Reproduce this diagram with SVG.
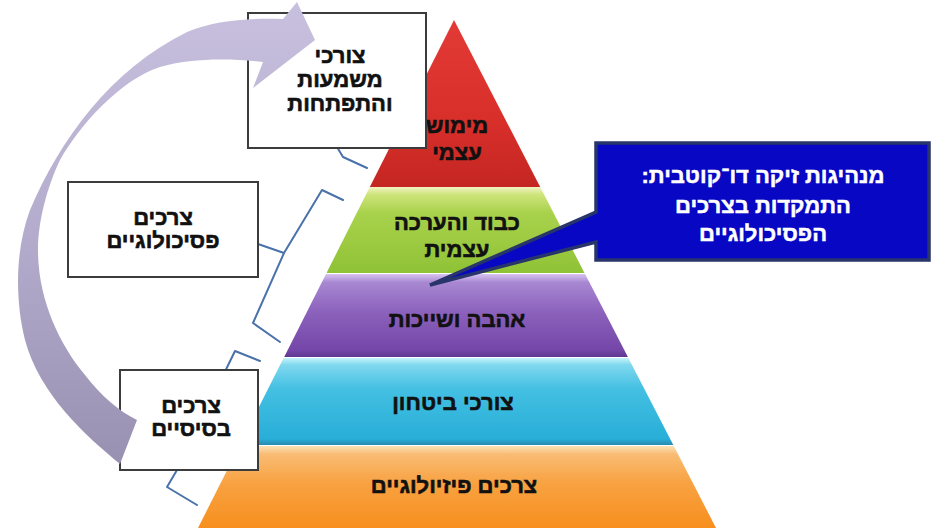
<svg xmlns="http://www.w3.org/2000/svg" width="932" height="528" viewBox="0 0 932 528">
  <defs>
    <linearGradient id="gRed" x1="0" y1="0" x2="0" y2="1">
      <stop offset="0" stop-color="#e23a36"/>
      <stop offset="0.6" stop-color="#d92f2b"/>
      <stop offset="1" stop-color="#c42622"/>
    </linearGradient>
    <linearGradient id="gGreen" x1="0" y1="0" x2="0" y2="1">
      <stop offset="0" stop-color="#f2f2c4"/>
      <stop offset="0.09" stop-color="#cde47a"/>
      <stop offset="0.3" stop-color="#a9d24c"/>
      <stop offset="1" stop-color="#8fc236"/>
    </linearGradient>
    <linearGradient id="gPurple" x1="0" y1="0" x2="0" y2="1">
      <stop offset="0" stop-color="#d8c4f0"/>
      <stop offset="0.1" stop-color="#a888d2"/>
      <stop offset="0.45" stop-color="#8c62bc"/>
      <stop offset="0.92" stop-color="#7446a8"/>
      <stop offset="1" stop-color="#5e3890"/>
    </linearGradient>
    <linearGradient id="gCyan" x1="0" y1="0" x2="0" y2="1">
      <stop offset="0" stop-color="#c4f4fc"/>
      <stop offset="0.08" stop-color="#80d8ee"/>
      <stop offset="0.35" stop-color="#44c0e2"/>
      <stop offset="0.93" stop-color="#28aed8"/>
      <stop offset="1" stop-color="#2a8ab0"/>
    </linearGradient>
    <linearGradient id="gOrange" x1="0" y1="0" x2="0" y2="1">
      <stop offset="0" stop-color="#fbe2b4"/>
      <stop offset="0.1" stop-color="#f9bc74"/>
      <stop offset="0.45" stop-color="#f8a242"/>
      <stop offset="1" stop-color="#f78f1e"/>
    </linearGradient>
    <linearGradient id="gArrow" gradientUnits="userSpaceOnUse" x1="0" y1="0" x2="0" y2="470">
      <stop offset="0" stop-color="#c8c0de"/>
      <stop offset="0.5" stop-color="#b4accc"/>
      <stop offset="1" stop-color="#9890b0"/>
    </linearGradient>
  </defs>
  <style>
    .box { fill: #ffffff; stroke: #3c3c3c; stroke-width: 2; }
    .lbl { font-family: "Liberation Sans", "DejaVu Sans", sans-serif; font-size: 22px; font-weight: bold; fill: #111111; stroke: #111111; stroke-width: 0.6; text-anchor: middle; direction: rtl; unicode-bidi: embed; }
    .wlbl { font-family: "Liberation Sans", "DejaVu Sans", sans-serif; font-size: 22px; font-weight: bold; fill: #ffffff; stroke: #ffffff; stroke-width: 0.5; text-anchor: middle; direction: rtl; unicode-bidi: embed; }
    .brace { fill: none; stroke: #4a72aa; stroke-width: 2; stroke-linejoin: round; stroke-linecap: round; }
  </style>
  <rect width="932" height="528" fill="#ffffff"/>

  <g id="pyramid">
    <g id="tier-self-actualization">
      <polygon points="454,20 540.2,187 369.8,187" fill="url(#gRed)"/>
      <text class="lbl" x="457" y="133">מימוש</text>
      <text class="lbl" x="457" y="160">עצמי</text>
    </g>
    <g id="tier-esteem">
      <polygon points="369.8,187 540.2,187 584.5,273 326.5,273" fill="url(#gGreen)"/>
      <text class="lbl" x="457" y="230">כבוד והערכה</text>
      <text class="lbl" x="457" y="257">עצמית</text>
    </g>
    <g id="tier-love">
      <polygon points="326,274 585.1,274 627.9,357 284.2,357" fill="url(#gPurple)"/>
      <text class="lbl" x="457" y="327">אהבה ושייכות</text>
    </g>
    <g id="tier-safety">
      <polygon points="283.6,358 628.4,358 673.3,445 239.8,445" fill="url(#gCyan)"/>
      <text class="lbl" x="453" y="410">צורכי ביטחון</text>
    </g>
    <g id="tier-physiological">
      <polygon points="239.3,446 673.8,446 716,528 198,528" fill="url(#gOrange)"/>
      <text class="lbl" x="454" y="493">צרכים פיזיולוגיים</text>
    </g>
  </g>

  <g id="connectors">
    <path class="brace" d="M367,168 L343,157 L328,132"/>
    <path class="brace" d="M343,200 L322,190 L284,253 L258,244 M284,253 L253,323 L280,342"/>
    <path class="brace" d="M260,361 L235,351 L177,470 L167,487 L197,505"/>
  </g>

  <g id="node-growth">
    <rect class="box" x="248" y="13" width="178" height="135"/>
    <text class="lbl" x="340" y="63">צורכי</text>
    <text class="lbl" x="340" y="87">משמעות</text>
    <text class="lbl" x="340" y="111">והתפתחות</text>
  </g>
  <g id="node-psychological">
    <rect class="box" x="68" y="182" width="190" height="95"/>
    <text class="lbl" x="163" y="225">צרכים</text>
    <text class="lbl" x="163" y="248">פסיכולוגיים</text>
  </g>
  <g id="node-basic">
    <rect class="box" x="120" y="370" width="138" height="100"/>
    <text class="lbl" x="191" y="413">צרכים</text>
    <text class="lbl" x="191" y="436">בסיסיים</text>
  </g>

  <g id="cycle-arrow">
    <path fill="url(#gArrow)" d="M120,464 C85,435 40,395 25,340 C15,300 15,250 30,210 C60,140 110,70 187,32 C215,20 250,18 283,19 L297,2 L315,40 L253,88 L263,62 C230,58 190,58 160,67 C120,80 80,125 60,160 C48,185 38,220 38,250 C38,300 60,345 85,375 C100,395 120,412 137,420 Z"/>
  </g>

  <g id="node-callout">
    <path d="M596,143 H929 V260 H596 V242 L430,285 L596,212 Z" fill="#0707c4" stroke="#27356b" stroke-width="3.5" stroke-linejoin="miter"/>
    <text class="wlbl" x="763" y="183">מנהיגות זיקה דו־קוטבית:</text>
    <text class="wlbl" x="763" y="213">התמקדות בצרכים</text>
    <text class="wlbl" x="763" y="241">הפסיכולוגיים</text>
  </g>
</svg>
